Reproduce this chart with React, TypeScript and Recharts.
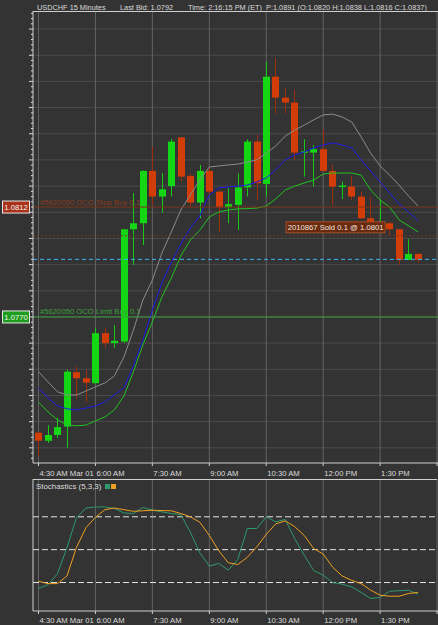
import React from 'react'
import { ComposedChart, Bar, Line, XAxis, YAxis, CartesianGrid, ReferenceLine, ReferenceDot } from 'recharts'

const FONT = '"Liberation Sans", Arial, sans-serif'
const BG = '#333333'
const TXT = '#dcdcdc'
const FS = 7.7

// bar index (15 min bars, stamped with close time) of each time label
const timeTicks = [0, 6, 12, 18, 24, 30, 36, 42]
const timeLabels = ['4:30 AM Mar 01', '6:00 AM', '7:30 AM', '9:00 AM', '10:30 AM', '12:00 PM', '1:30 PM', '3:00 PM']

const opens = [1.07258, 1.07227, 1.07249, 1.07281, 1.07489, 1.07466, 1.07447, 1.07638, 1.07600, 1.07606,
  1.08035, 1.08058, 1.08258, 1.08160, 1.08200, 1.08386, 1.08239, 1.08137, 1.08258, 1.08179,
  1.08119, 1.08128, 1.08195, 1.08370, 1.08208, 1.08618, 1.08538, 1.08519, 1.08328, 1.08328,
  1.08341, 1.08258, 1.08199, 1.08198, 1.08160, 1.08077, 1.08051, 1.08058, 1.08035, 1.07918, 1.07941]
const highs = [1.07262, 1.07287, 1.07314, 1.07498, 1.07510, 1.07498, 1.07658, 1.07658, 1.07669, 1.08036,
  1.08173, 1.08260, 1.08351, 1.08250, 1.08380, 1.08388, 1.08249, 1.08281, 1.08270, 1.08180,
  1.08192, 1.08249, 1.08379, 1.08395, 1.08675, 1.08688, 1.08577, 1.08567, 1.08379, 1.08357,
  1.08417, 1.08281, 1.08217, 1.08239, 1.08179, 1.08160, 1.08147, 1.08063, 1.08036, 1.07997, 1.07943]
const lows = [1.07166, 1.07219, 1.07238, 1.07200, 1.07389, 1.07376, 1.07445, 1.07582, 1.07582, 1.07601,
  1.07899, 1.07975, 1.08128, 1.08098, 1.08160, 1.08217, 1.08121, 1.08077, 1.08166, 1.08026,
  1.08058, 1.08032, 1.08160, 1.08147, 1.08160, 1.08478, 1.08478, 1.08300, 1.08236, 1.08198,
  1.08255, 1.08128, 1.08150, 1.08147, 1.08075, 1.08026, 1.08045, 1.08010, 1.07899, 1.07917, 1.07906]
const closes = [1.07227, 1.07249, 1.07279, 1.07491, 1.07466, 1.07449, 1.07638, 1.07600, 1.07609, 1.08035,
  1.08058, 1.08258, 1.08160, 1.08188, 1.08370, 1.08236, 1.08137, 1.08258, 1.08179, 1.08119,
  1.08131, 1.08195, 1.08370, 1.08211, 1.08618, 1.08538, 1.08519, 1.08328, 1.08333, 1.08341,
  1.08258, 1.08198, 1.08202, 1.08160, 1.08077, 1.08051, 1.08063, 1.08035, 1.07918, 1.07941, 1.07918]

const upperBand = [1.07491, 1.07452, 1.07414, 1.07402, 1.07402, 1.07417, 1.07433, 1.07448, 1.07475, 1.07547,
  1.07650, 1.07765, 1.07841, 1.07944, 1.08025, 1.08109, 1.08166, 1.08223, 1.08273, 1.08277,
  1.08281, 1.08284, 1.08292, 1.08300, 1.08326, 1.08353, 1.08391, 1.08414, 1.08433, 1.08453,
  1.08472, 1.08475, 1.08464, 1.08445, 1.08388, 1.08326, 1.08277, 1.08242, 1.08204, 1.08162, 1.08124]
const midBand = [1.07429, 1.07391, 1.07360, 1.07349, 1.07345, 1.07352, 1.07360, 1.07375, 1.07402, 1.07429,
  1.07513, 1.07612, 1.07727, 1.07830, 1.07910, 1.07979, 1.08040, 1.08086, 1.08166, 1.08193,
  1.08197, 1.08200, 1.08204, 1.08216, 1.08231, 1.08262, 1.08300, 1.08319, 1.08330, 1.08346,
  1.08357, 1.08365, 1.08357, 1.08346, 1.08300, 1.08258, 1.08216, 1.08174, 1.08132, 1.08101, 1.08067]
const lowerBand = [1.07375, 1.07337, 1.07307, 1.07287, 1.07284, 1.07287, 1.07303, 1.07318, 1.07345, 1.07398,
  1.07490, 1.07593, 1.07681, 1.07776, 1.07849, 1.07933, 1.07994, 1.08032, 1.08082, 1.08101,
  1.08109, 1.08113, 1.08114, 1.08116, 1.08124, 1.08151, 1.08185, 1.08200, 1.08212, 1.08223,
  1.08246, 1.08250, 1.08250, 1.08250, 1.08242, 1.08185, 1.08147, 1.08120, 1.08071, 1.08048, 1.08025]

const stochK = [14.5, 18, 28, 52, 79, 88, 89, 89, 87.5, 83.5, 83, 88.5, 86, 84.5, 83, 82, 66, 47, 35, 37.4,
  31.3, 41, 69.3, 69.3, 80, 75.4, 77.6, 60, 45, 31, 26.7, 20, 18.5, 16, 11, 5.4, 6.3, 12, 12.5, 13, 9.3]
const stochD = [21.2, 19, 19, 26, 52, 70, 79.5, 86.5, 88, 86.5, 85, 85.5, 86, 85.7, 85.5, 83, 80, 75, 63, 49,
  38, 36.5, 43, 52.5, 64, 73.5, 76.3, 71, 63, 51, 46, 34, 26, 22, 19, 13, 8.4, 7.5, 7.5, 10, 10.9]

const priceGrid = [1.072, 1.073, 1.074, 1.075, 1.076, 1.077, 1.078, 1.079, 1.080, 1.081, 1.082, 1.083, 1.084, 1.085, 1.086, 1.087, 1.088]
const stochGrid = [10, 30, 40, 60, 70, 90]
const stochLevels = [20, 50, 80]

const stopBuy = 1.0812
const limitBuy = 1.0770
const soldPrice = 1.0801
const lastBid = 1.0792

const xDomain = [-0.58, 42.1]
const priceDomain = [1.07142, 1.08869]

const candles = opens.map((o, i) => ({
  i, open: o, high: highs[i], low: lows[i], close: closes[i],
  range: [lows[i], highs[i]],
  upper: upperBand[i], mid: midBand[i], lower: lowerBand[i],
}))
const stoch = stochK.map((k, i) => ({ i, k, d: stochD[i] }))

// minor price ticks on the left axis
const axisTicks = [1.071, ...priceGrid]
  .flatMap(v => [0, 1, 2, 3, 4].map(j => +(v + j * 0.0002).toFixed(4)))
  .filter(v => v >= priceDomain[0] && v <= priceDomain[1])

const Candle = (props: any) => {
  const { x, y, width, height, payload } = props
  const { open, close, high, low } = payload
  const up = close >= open
  const k = height / (high - low)
  const cx = Math.round(x + width / 2) + 0.5
  const top = y + (high - Math.max(open, close)) * k
  const bh = Math.max(1.5, Math.abs(close - open) * k)
  return (
    <g>
      <line x1={cx} x2={cx} y1={y} y2={y + height} stroke={up ? '#17c917' : '#9c2e0e'} />
      <rect x={cx - 3.5} y={top} width={7} height={bh} fill={up ? '#14d614' : '#d23c06'} />
    </g>
  )
}

const TimeTick = (props: any) => {
  const { x, y, payload, dy } = props
  const idx = timeTicks.indexOf(payload.value)
  return (
    <text x={x + 1} y={y + (dy || 8)} fill={TXT} fontSize={FS} fontFamily={FONT} textAnchor="start">
      {timeLabels[idx]}
    </text>
  )
}

const PriceTick = (props: any) => {
  const { y, payload } = props
  const v = payload.value
  const major = Math.abs(v * 1000 - Math.round(v * 1000)) < 1e-6
  return <line x1={major ? 29 : 31} x2={33} y1={y} y2={y} stroke="#d8d8d8" />
}

const orderLabel = (text: string, color: string, box: string, boxFill: string) => (props: any) => {
  const { viewBox } = props
  const y = viewBox.y
  return (
    <g>
      <text x={viewBox.x + 7} y={y - 2.5} fill={color} fontSize={FS} fontFamily={FONT}>{text}</text>
      <rect x={2.5} y={y - 6} width={27} height={12} fill={boxFill} stroke="#e8e8e8" />
      <text x={16} y={y + 3} fill="#f4f4f4" fontSize={FS} fontFamily={FONT} textAnchor="middle">{box}</text>
    </g>
  )
}

const soldLabel = (props: any) => {
  const { viewBox } = props
  const cx = viewBox.x + viewBox.width / 2
  const cy = viewBox.y + viewBox.height / 2
  return (
    <g>
      <rect x={cx - 103.5} y={cy - 14} width={99} height={11} fill="#6a2a0e" stroke="#a5502a" />
      <text x={cx - 54} y={cy - 5.5} fill="#f0e6e0" fontSize={FS} fontFamily={FONT} textAnchor="middle">
        {`2010867 Sold 0.1 @ ${soldPrice.toFixed(4)}`}
      </text>
    </g>
  )
}

export default function App() {
  return (
    <div style={{ position: 'absolute', left: 0, top: 0, width: 438, height: 625, background: BG, overflow: 'hidden' }}>
      <div style={{ position: 'absolute', left: 0, top: 0 }}>
        <ComposedChart width={438} height={480} data={candles} margin={{ top: 11, right: 0, bottom: 0, left: 0 }}>
          <CartesianGrid vertical={false} horizontalValues={priceGrid} stroke="#4b4b4b" />
          <CartesianGrid horizontal={false} verticalValues={timeTicks} stroke="#626262" />
          <XAxis dataKey="i" type="number" domain={xDomain} allowDataOverflow ticks={timeTicks} interval={0}
            height={17} stroke="#cfcfcf" tickSize={3} tick={<TimeTick dy={8} />} />
          <YAxis type="number" domain={priceDomain} allowDataOverflow ticks={axisTicks} interval={0}
            width={33} stroke="#cfcfcf" tickLine={false} tick={<PriceTick />} />
          <Bar dataKey="range" barSize={7} shape={<Candle />} isAnimationActive={false} />
          <Line dataKey="upper" stroke="#8c8c8c" dot={false} strokeWidth={1} isAnimationActive={false} />
          <Line dataKey="mid" stroke="#1a1ae6" dot={false} strokeWidth={1} isAnimationActive={false} />
          <Line dataKey="lower" stroke="#22c322" dot={false} strokeWidth={1} isAnimationActive={false} />
          <ReferenceLine y={stopBuy} stroke="#7c3519"
            label={orderLabel('#5620050 OCO Stop Buy 0.1', '#8e3c1c', stopBuy.toFixed(4), '#a8321a')} />
          <ReferenceLine y={soldPrice} stroke="#6e3a26" strokeDasharray="2 2" />
          <ReferenceLine y={lastBid} stroke="#38b6f2" strokeDasharray="4 3" />
          <ReferenceLine y={limitBuy} stroke="#3a9e3a"
            label={orderLabel('#5620050 OCO Limit Buy 0.1', '#3aa03a', limitBuy.toFixed(4), '#1e9e1e')} />
          <ReferenceDot x={37} y={soldPrice} r={1} fill="none" stroke="none" label={soldLabel} />
        </ComposedChart>
      </div>
      <div style={{ position: 'absolute', left: 0, top: 479 }}>
        <ComposedChart width={438} height={146} data={stoch} margin={{ top: 0, right: 0, bottom: 0, left: 0 }}>
          <CartesianGrid vertical={false} horizontalValues={stochGrid} stroke="#4b4b4b" />
          <CartesianGrid horizontal={false} verticalValues={timeTicks} stroke="#626262" />
          <XAxis dataKey="i" type="number" domain={xDomain} allowDataOverflow ticks={timeTicks} interval={0}
            height={14} stroke="#cfcfcf" tickSize={3} tick={<TimeTick dy={7} />} />
          <YAxis type="number" domain={[-6, 114.5]} allowDataOverflow width={33} stroke="#cfcfcf" tick={false} tickLine={false} />
          {stochLevels.map(v => (
            <ReferenceLine key={v} y={v} stroke="#e4e4e4" strokeDasharray="6 3" />
          ))}
          <Line dataKey="k" stroke="#2f9a6a" dot={false} strokeWidth={1} isAnimationActive={false} />
          <Line dataKey="d" stroke="#f0a020" dot={false} strokeWidth={1} isAnimationActive={false} />
        </ComposedChart>
      </div>
      <svg width={438} height={625} style={{ position: 'absolute', left: 0, top: 0, pointerEvents: 'none' }}>
        <g fill={TXT} fontSize={7.35} fontFamily={FONT}>
          <text x={37} y={10}>USDCHF  15 Minutes</text>
          <text x={120} y={10}>Last Bid: 1.0792</text>
          <text x={188} y={10}>Time: 2:16:15 PM (ET)</text>
          <text x={266} y={10}>P:1.0891 (O:1.0820 H:1.0838 L:1.0816 C:1.0837)</text>
        </g>
        <text x={36} y={489} fill={TXT} fontSize={7.9} fontFamily={FONT}>Stochastics (5,3,3)</text>
        <rect x={105} y={484} width={5} height={5} fill="#2f9a6a" />
        <rect x={111} y={484} width={5} height={5} fill="#f0a020" />
        <line x1={33} x2={438} y1={11.5} y2={11.5} stroke="#cfcfcf" />
        <line x1={33} x2={437} y1={479.5} y2={479.5} stroke="#cfcfcf" />
      </svg>
    </div>
  )
}
